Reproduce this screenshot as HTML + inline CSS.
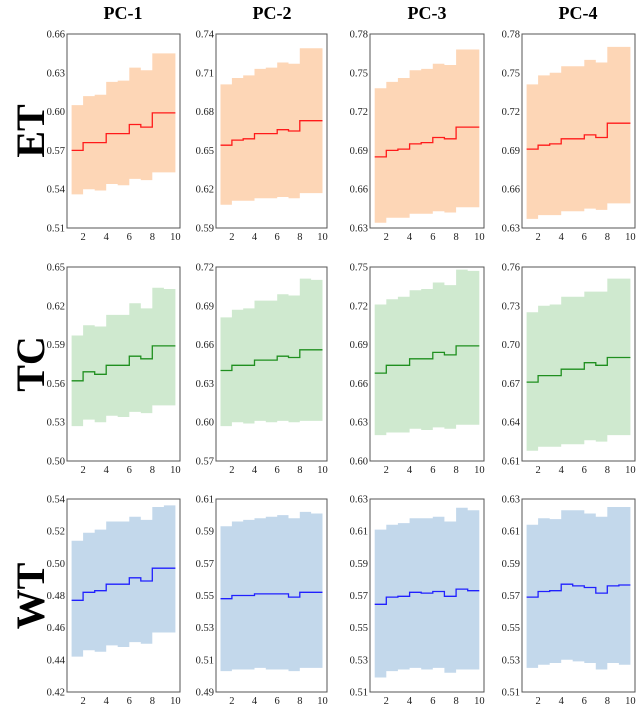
<!DOCTYPE html><html><head><style>body{margin:0;background:#fff}svg{display:block}</style></head><body>
<svg id="s" width="640" height="708" xmlns="http://www.w3.org/2000/svg" font-family="Liberation Serif, serif">
<g font-weight="bold" font-size="18" text-anchor="middle">
<text x="123" y="19">PC-1</text><text x="272" y="19">PC-2</text><text x="427" y="19">PC-3</text><text x="578" y="19">PC-4</text>
</g>
<g font-weight="bold" font-size="40" text-anchor="middle">
<text transform="translate(44,131) rotate(-90)">ET</text>
<text transform="translate(44,364) rotate(-90)">TC</text>
<text transform="translate(44,596) rotate(-90)">WT</text>
</g>
</svg>
<script>
const cols=[[67,180],[216,327],[370,484],[522,635]];
const rows=[[34,228],[267,461],[499,692]];
const fills=["#fdd6b6","#cfe9cf","#c3d8eb"],lines=["#ff1a1a","#1f8f1f","#2020ff"];
const yt=[
[["0.51","0.54","0.57","0.60","0.63","0.66"],["0.59","0.62","0.65","0.68","0.71","0.74"],["0.63","0.66","0.69","0.72","0.75","0.78"],["0.63","0.66","0.69","0.72","0.75","0.78"]],
[["0.50","0.53","0.56","0.59","0.62","0.65"],["0.57","0.60","0.63","0.66","0.69","0.72"],["0.60","0.63","0.66","0.69","0.72","0.75"],["0.61","0.64","0.67","0.70","0.73","0.76"]],
[["0.42","0.46","0.48","0.50","0.52","0.54"],["0.49","0.51","0.53","0.55","0.57","0.59","0.61"],["0.51","0.53","0.55","0.57","0.59","0.61","0.63"],["0.51","0.53","0.55","0.57","0.59","0.61","0.63"]]];
const yr=[[[.51,.66],[.59,.74],[.63,.78],[.63,.78]],[[.50,.65],[.57,.72],[.60,.75],[.61,.76]],[[.42,.54],[.49,.61],[.51,.63],[.51,.63]]];
yt[2][0]=["0.42","0.44","0.46","0.48","0.50","0.52","0.54"];
const D=[[
[[.570,.576,.576,.583,.583,.590,.588,.599,.599],[.605,.612,.613,.623,.624,.634,.632,.645,.645],[.536,.540,.539,.544,.543,.548,.547,.553,.553]],
[[.654,.658,.659,.663,.663,.666,.665,.673,.673],[.701,.706,.708,.713,.714,.718,.717,.729,.729],[.608,.611,.611,.613,.613,.614,.613,.617,.617]],
[[.685,.690,.691,.695,.696,.700,.699,.708,.708],[.738,.743,.746,.752,.753,.757,.756,.768,.768],[.634,.638,.638,.641,.641,.643,.642,.646,.646]],
[[.691,.694,.695,.699,.699,.702,.700,.711,.711],[.741,.748,.750,.755,.755,.760,.758,.770,.770],[.637,.640,.640,.643,.643,.645,.644,.649,.649]]],[
[[.562,.569,.567,.574,.574,.581,.579,.589,.589],[.597,.605,.604,.613,.613,.622,.618,.634,.633],[.527,.532,.530,.535,.534,.538,.537,.543,.543]],
[[.640,.644,.644,.648,.648,.651,.650,.656,.656],[.681,.687,.688,.694,.694,.699,.698,.711,.710],[.597,.600,.599,.601,.600,.601,.600,.601,.601]],
[[.668,.674,.674,.679,.679,.684,.682,.689,.689],[.721,.725,.727,.732,.733,.738,.736,.748,.747],[.620,.622,.622,.625,.624,.626,.625,.628,.628]],
[[.671,.676,.676,.681,.681,.686,.684,.690,.690],[.725,.730,.731,.737,.737,.741,.741,.751,.751],[.618,.621,.621,.623,.623,.626,.625,.630,.630]]],[
[[.477,.482,.483,.487,.487,.491,.489,.497,.497],[.514,.519,.521,.526,.526,.529,.527,.535,.536],[.442,.446,.445,.449,.448,.451,.450,.457,.457]],
[[.548,.550,.550,.551,.551,.551,.549,.552,.552],[.593,.596,.597,.598,.599,.600,.598,.602,.601],[.503,.504,.504,.505,.504,.504,.503,.505,.505]],
[[.5645,.569,.5695,.572,.5715,.5725,.5695,.574,.573],[.611,.614,.615,.618,.618,.619,.616,.6245,.623],[.519,.523,.524,.525,.524,.525,.522,.524,.524]],
[[.569,.5725,.573,.577,.576,.575,.5715,.576,.5765],[.614,.618,.6175,.623,.623,.621,.619,.625,.625],[.525,.527,.528,.530,.529,.528,.524,.528,.527]]]];
let h="";
for(let r=0;r<3;r++)for(let c=0;c<4;c++){
 const [x0,x1]=cols[c],[y0,y1]=rows[r],[lo,hi]=yr[r][c];
 const X=v=>x0+(v-0.6)/(9.8)*(x1-x0), Y=v=>y1-(v-lo)/(hi-lo)*(y1-y0);
 const [m,u,l]=D[r][c];
 let up=[],dn=[],ln=[];
 for(let i=0;i<9;i++){up.push([X(i+1),Y(u[i])],[X(i+2),Y(u[i])]);dn.push([X(i+1),Y(l[i])],[X(i+2),Y(l[i])]);ln.push([X(i+1),Y(m[i])],[X(i+2),Y(m[i])]);}
 const pts=up.concat(dn.reverse()).map(p=>p[0].toFixed(1)+","+p[1].toFixed(1)).join(" ");
 h+=`<polygon points="${pts}" fill="${fills[r]}"/>`;
 h+=`<polyline points="${ln.map(p=>p[0].toFixed(1)+","+p[1].toFixed(1)).join(" ")}" fill="none" stroke="${lines[r]}" stroke-width="1.3"/>`;
 h+=`<rect x="${x0}" y="${y0}" width="${x1-x0}" height="${y1-y0}" fill="none" stroke="#555" stroke-width="1"/>`;
 const t=yt[r][c];
 t.forEach((s,k)=>{const yy=y1-k/(t.length-1)*(y1-y0);h+=`<text x="${x0-2}" y="${yy+3.5}" font-size="10.5" text-anchor="end" fill="#222">${s}</text>`;});
 [2,4,6,8,10].forEach(v=>{h+=`<text x="${X(v)}" y="${y1+12}" font-size="10.5" text-anchor="middle" fill="#222">${v}</text>`;});
}
document.getElementById("s").insertAdjacentHTML("beforeend",h);
</script>
</body></html>
